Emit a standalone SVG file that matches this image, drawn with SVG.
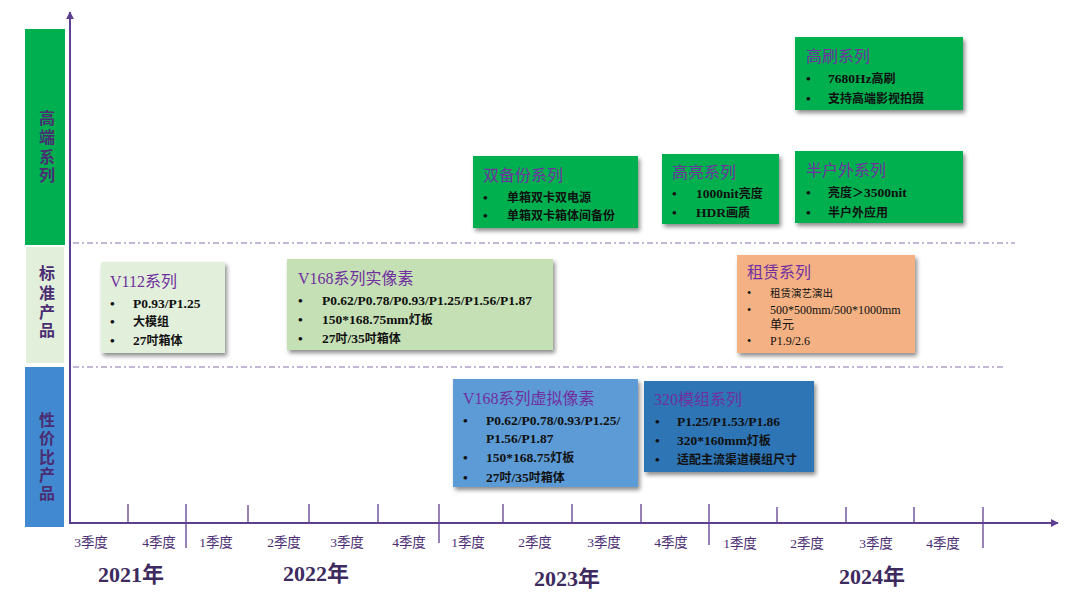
<svg xmlns="http://www.w3.org/2000/svg" width="1080" height="595" viewBox="0 0 1080 595">
<defs>
<filter id="sh" x="-10%" y="-10%" width="125%" height="130%">
<feDropShadow dx="2" dy="3" stdDeviation="2.2" flood-color="#000" flood-opacity="0.45"/>
</filter>
<marker id="arr" viewBox="0 0 10 10" refX="9" refY="5" markerWidth="4" markerHeight="4" orient="auto" markerUnits="strokeWidth">
<path d="M0,0 L10,5 L0,10 z" fill="#5f3f8f"/>
</marker>
</defs>
<style>
.side{font-family:"Liberation Serif","Noto Sans CJK SC",serif;font-size:16px;font-weight:bold;fill:#4b2d73;text-anchor:middle}
.q{font-family:"Liberation Serif","Noto Sans CJK SC",serif;font-size:13.5px;fill:#4b2d73;text-anchor:middle}
.yr{font-family:"Liberation Serif","Noto Sans CJK SC",serif;font-size:22px;font-weight:bold;fill:#3d2a5e;text-anchor:middle}
.tt{font-family:"Liberation Serif","Noto Sans CJK SC",serif;font-size:16px;fill:#7030a0}
.it{font-family:"Liberation Serif","Noto Sans CJK SC",serif;font-size:13.5px;font-weight:bold;fill:#111}
.its{font-family:"Liberation Serif","Noto Sans CJK SC",serif;font-size:12px;fill:#111}
.c{font-size:12px}
.cs{font-size:10.5px}
.ax{stroke:#5f3f8f;stroke-width:2;fill:none}
.tk{stroke:#5f3f8f;stroke-width:1.3}
.dd{stroke:#8a70b0;stroke-width:1.2;stroke-dasharray:6 3 2 3;fill:none}
.box{filter:url(#sh)}
</style>

<g id="side-bars">
<rect x="25" y="29" width="40" height="216" fill="#00b050"/>
<rect x="26" y="247" width="38" height="116" fill="#e2efda"/>
<rect x="25" y="367" width="39" height="160" fill="#4189d0"/>
<text class="side" x="47" y="124">高</text>
<text class="side" x="47" y="143">端</text>
<text class="side" x="47" y="163">系</text>
<text class="side" x="47" y="181">列</text>
<text class="side" x="47" y="279">标</text>
<text class="side" x="47" y="299">准</text>
<text class="side" x="47" y="318">产</text>
<text class="side" x="47" y="336">品</text>
<text class="side" x="47" y="426">性</text>
<text class="side" x="47" y="444">价</text>
<text class="side" x="47" y="463">比</text>
<text class="side" x="47" y="481">产</text>
<text class="side" x="47" y="499">品</text>
</g>

<g id="connectors">
<line class="ax" x1="70" y1="524" x2="70" y2="12" marker-end="url(#arr)"/>
<line class="ax" x1="69" y1="523" x2="1058" y2="523" marker-end="url(#arr)"/>
<line class="dd" x1="73" y1="243" x2="1015" y2="243"/>
<line class="dd" x1="73" y1="367" x2="1005" y2="367"/>
<g class="tk">
<line x1="128" y1="504" x2="128" y2="523"/>
<line x1="186" y1="504" x2="186" y2="548"/>
<line x1="248" y1="505" x2="248" y2="523"/>
<line x1="309" y1="504" x2="309" y2="523"/>
<line x1="378" y1="504" x2="378" y2="523"/>
<line x1="439" y1="504" x2="439" y2="543"/>
<line x1="503" y1="504" x2="503" y2="523"/>
<line x1="572" y1="504" x2="572" y2="523"/>
<line x1="641" y1="504" x2="641" y2="523"/>
<line x1="709" y1="504" x2="709" y2="545"/>
<line x1="777" y1="507" x2="777" y2="523"/>
<line x1="846" y1="507" x2="846" y2="523"/>
<line x1="914" y1="507" x2="914" y2="523"/>
<line x1="983" y1="507" x2="983" y2="548"/>
</g>
</g>

<g id="axis-labels">
<text class="q" x="91" y="547">3季度</text>
<text class="q" x="159" y="547">4季度</text>
<text class="q" x="216" y="547">1季度</text>
<text class="q" x="284" y="547">2季度</text>
<text class="q" x="347" y="547">3季度</text>
<text class="q" x="409" y="547">4季度</text>
<text class="q" x="468" y="547">1季度</text>
<text class="q" x="535" y="547">2季度</text>
<text class="q" x="604" y="547">3季度</text>
<text class="q" x="671" y="547">4季度</text>
<text class="q" x="740" y="548">1季度</text>
<text class="q" x="807" y="548">2季度</text>
<text class="q" x="876" y="548">3季度</text>
<text class="q" x="943" y="548">4季度</text>
<text class="yr" x="131" y="582">2021年</text>
<text class="yr" x="316" y="581">2022年</text>
<text class="yr" x="567" y="586">2023年</text>
<text class="yr" x="872" y="584">2024年</text>
</g>

<g id="v112">
<rect class="box" x="101" y="262" width="124" height="91" fill="#e2efda"/>
<text class="tt" x="110" y="287">V112系列</text>
<text class="it" x="110" y="308">•</text><text class="it" x="133" y="308">P0.93/P1.25</text>
<text class="it" x="110" y="326">•</text><text class="it" x="133" y="326"><tspan class="c">大模组</tspan></text>
<text class="it" x="110" y="345">•</text><text class="it" x="133" y="345">27<tspan class="c">吋箱体</tspan></text>
</g>

<g id="v168-real">
<rect class="box" x="287" y="259" width="266" height="91" fill="#c5e0b4"/>
<text class="tt" x="298" y="284">V168系列实像素</text>
<text class="it" x="298" y="305">•</text><text class="it" x="322" y="305">P0.62/P0.78/P0.93/P1.25/P1.56/P1.87</text>
<text class="it" x="298" y="324">•</text><text class="it" x="322" y="324">150*168.75mm<tspan class="c">灯板</tspan></text>
<text class="it" x="298" y="343">•</text><text class="it" x="322" y="343">27<tspan class="c">吋</tspan>/35<tspan class="c">吋箱体</tspan></text>
</g>

<g id="dual-backup">
<rect class="box" x="473" y="156" width="165" height="72" fill="#00b050"/>
<text class="tt" x="483" y="181">双备份系列</text>
<text class="it" x="483" y="202">•</text><text class="it" x="507" y="202"><tspan class="c">单箱双卡双电源</tspan></text>
<text class="it" x="483" y="220">•</text><text class="it" x="507" y="220"><tspan class="c">单箱双卡箱体间备份</tspan></text>
</g>

<g id="high-bright">
<rect class="box" x="662" y="154" width="117" height="70" fill="#00b050"/>
<text class="tt" x="672" y="178">高亮系列</text>
<text class="it" x="672" y="198">•</text><text class="it" x="696" y="198">1000nit<tspan class="c">亮度</tspan></text>
<text class="it" x="672" y="217">•</text><text class="it" x="696" y="217">HDR<tspan class="c">画质</tspan></text>
</g>

<g id="high-refresh">
<rect class="box" x="795" y="37" width="168" height="73" fill="#00b050"/>
<text class="tt" x="806" y="62">高刷系列</text>
<text class="it" x="806" y="83">•</text><text class="it" x="828" y="83">7680Hz<tspan class="c">高刷</tspan></text>
<text class="it" x="806" y="103">•</text><text class="it" x="828" y="103"><tspan class="c">支持高端影视拍摄</tspan></text>
</g>

<g id="semi-outdoor">
<rect class="box" x="795" y="151" width="168" height="72" fill="#00b050"/>
<text class="tt" x="806" y="176">半户外系列</text>
<text class="it" x="806" y="197">•</text><text class="it" x="828" y="197"><tspan class="c">亮度＞</tspan>3500nit</text>
<text class="it" x="806" y="217">•</text><text class="it" x="828" y="217"><tspan class="c">半户外应用</tspan></text>
</g>

<g id="rental">
<rect class="box" x="737" y="255" width="178" height="98" fill="#f4b183"/>
<text class="tt" x="747" y="278">租赁系列</text>
<text class="its" x="747" y="297">•</text><text class="its" x="770" y="297"><tspan class="cs">租赁演艺演出</tspan></text>
<text class="its" x="747" y="314">•</text><text class="its" x="770" y="314">500*500mm/500*1000mm</text>
<text class="its" x="770" y="329">单元</text>
<text class="its" x="747" y="345">•</text><text class="its" x="770" y="345">P1.9/2.6</text>
</g>

<g id="v168-virtual">
<rect class="box" x="453" y="379" width="185" height="108" fill="#5b9bd5"/>
<text class="tt" x="463" y="404">V168系列虚拟像素</text>
<text class="it" x="463" y="425">•</text><text class="it" x="486" y="425">P0.62/P0.78/0.93/P1.25/</text>
<text class="it" x="486" y="443">P1.56/P1.87</text>
<text class="it" x="463" y="462">•</text><text class="it" x="486" y="462">150*168.75<tspan class="c">灯板</tspan></text>
<text class="it" x="463" y="482">•</text><text class="it" x="486" y="482">27<tspan class="c">吋</tspan>/35<tspan class="c">吋箱体</tspan></text>
</g>

<g id="module-320">
<rect class="box" x="644" y="381" width="170" height="91" fill="#2e75b6"/>
<text class="tt" x="654" y="405">320模组系列</text>
<text class="it" x="655" y="426">•</text><text class="it" x="677" y="426">P1.25/P1.53/P1.86</text>
<text class="it" x="655" y="445">•</text><text class="it" x="677" y="445">320*160mm<tspan class="c">灯板</tspan></text>
<text class="it" x="655" y="464">•</text><text class="it" x="677" y="464"><tspan class="c">适配主流渠道模组尺寸</tspan></text>
</g>
</svg>
